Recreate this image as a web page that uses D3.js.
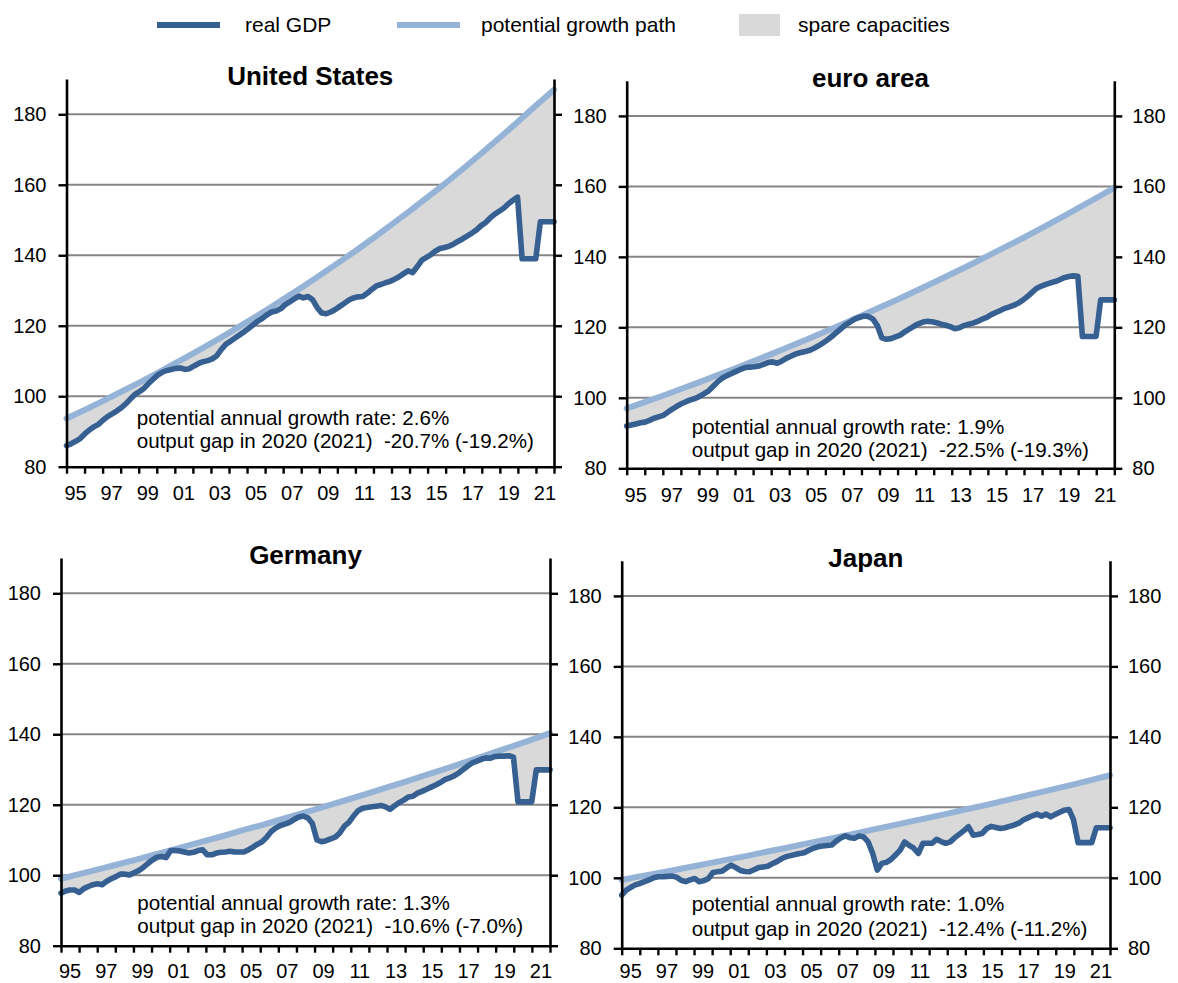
<!DOCTYPE html>
<html>
<head>
<meta charset="utf-8">
<script src="https://cdn.jsdelivr.net/npm/d3@7"></script>
<style>
  html, body { margin: 0; padding: 0; background: #ffffff; }
  svg { display: block; }
  text { font-family: "Liberation Sans", Arial, Helvetica, sans-serif; fill: #000; }
</style>
</head>
<body>
<svg id="chart" width="1178" height="983"></svg>
<script>
// ---- data ---------------------------------------------------------------
const panelNames = ["United States", "euro area", "Germany", "Japan"];

// year boundaries (potential path is read at the start of each year)
const pathYears = [1995, 1996, 1997, 1998, 1999, 2000, 2001, 2002, 2003, 2004,
  2005, 2006, 2007, 2008, 2009, 2010, 2011, 2012, 2013, 2014, 2015, 2016, 2017,
  2018, 2019, 2020, 2021, 2022];

const xTickLabels = ["95", "97", "99", "01", "03", "05", "07", "09", "11", "13",
  "15", "17", "19", "21"];
const xLabelYears = [1995, 1997, 1999, 2001, 2003, 2005, 2007, 2009, 2011, 2013,
  2015, 2017, 2019, 2021];
const yTicks = [80, 100, 120, 140, 160, 180];

// potential growth path (index level)
const usPotential = [93.7, 96.1, 98.6, 101.2, 103.8, 106.5, 109.3, 112.1, 115.0,
  118.0, 121.1, 124.2, 127.5, 130.8, 134.2, 137.7, 141.2, 144.9, 148.7, 152.5,
  156.5, 160.5, 164.7, 169.0, 173.4, 177.9, 182.5, 187.0];
const eaPotential = [97.0, 98.8, 100.6, 102.5, 104.4, 106.4, 108.3, 110.4, 112.4,
  114.5, 116.6, 118.8, 121.0, 123.3, 125.6, 127.9, 130.3, 132.7, 135.2, 137.7,
  140.3, 142.9, 145.5, 148.2, 151.0, 153.8, 156.7, 159.6];
const dePotential = [99.0, 100.3, 101.6, 102.9, 104.2, 105.6, 107.0, 108.4, 109.8,
  111.2, 112.7, 114.1, 115.6, 117.1, 118.6, 120.2, 121.7, 123.3, 124.9, 126.5,
  128.2, 129.8, 131.5, 133.2, 135.0, 136.7, 138.5, 140.3];
const jpPotential = [99.4, 100.4, 101.3, 102.3, 103.3, 104.3, 105.3, 106.3, 107.4,
  108.4, 109.5, 110.5, 111.6, 112.7, 113.8, 114.9, 116.0, 117.1, 118.2, 119.4,
  120.5, 121.7, 122.9, 124.1, 125.3, 126.5, 127.8, 129.1];

// real GDP, quarterly 1995Q1 - 2021Q4 (2020 and 2021: annual level)
const usGDP = [
  86.0, 86.5, 87.2, 88.0,   89.3, 90.4, 91.3, 92.0,   93.2, 94.2, 95.0, 95.8,
  96.7, 97.8, 99.2, 100.5,  101.3, 102.2, 103.6, 104.8, 106.0, 106.8, 107.3, 107.6,
  107.9, 108.0, 107.6, 107.8, 108.6, 109.3, 109.8, 110.1, 110.6, 111.5, 113.3, 114.8,
  115.6, 116.5, 117.4, 118.3, 119.3, 120.3, 121.3, 122.1, 123.1, 123.9, 124.2, 124.8,
  126.0, 126.8, 127.6, 128.4, 127.9, 128.3, 127.4, 125.2, 123.6, 123.4, 123.9, 124.6,
  125.5, 126.4, 127.3, 127.9, 128.2, 128.3, 129.2, 130.3, 131.3, 131.7, 132.2, 132.6,
  133.2, 133.9, 134.8, 135.6, 135.1, 136.8, 138.6, 139.4, 140.2, 141.2, 141.9, 142.2,
  142.6, 143.2, 144.0, 144.7, 145.5, 146.3, 147.2, 148.4, 149.3, 150.6, 151.7, 152.5,
  153.4, 154.6, 155.6, 156.5, 139.0, 139.0, 139.0, 139.0, 149.5, 149.5, 149.5, 149.5];
const eaGDP = [
  92.0, 92.3, 92.6, 92.9,   93.1, 93.6, 94.2, 94.6,   95.0, 95.9, 96.8, 97.6,
  98.3, 98.9, 99.4, 99.8,   100.4, 101.2, 102.0, 103.3, 104.6, 105.6, 106.3, 106.9,
  107.5, 108.1, 108.6, 108.7, 108.8, 109.0, 109.5, 110.0, 110.2, 109.8, 110.4, 111.2,
  111.8, 112.4, 112.8, 113.1, 113.4, 114.0, 114.7, 115.5, 116.4, 117.4, 118.5, 119.6,
  120.7, 121.5, 122.3, 122.8, 123.2, 123.1, 122.4, 120.5, 117.0, 116.6, 116.8, 117.3,
  117.8, 118.7, 119.5, 120.3, 121.0, 121.5, 121.7, 121.6, 121.3, 120.9, 120.6, 120.2,
  119.6, 119.9, 120.5, 120.9, 121.2, 121.7, 122.3, 122.8, 123.6, 124.2, 124.8, 125.4,
  125.8, 126.3, 126.9, 127.8, 128.8, 130.0, 131.1, 131.7, 132.2, 132.6, 133.0, 133.5,
  134.1, 134.4, 134.6, 134.5, 117.4, 117.4, 117.4, 117.4, 127.8, 127.8, 127.8, 127.8];
const deGDP = [
  94.9, 95.5, 95.8, 95.8,   95.1, 96.2, 96.8, 97.3,   97.6, 97.3, 98.3, 99.0,
  99.6, 100.3, 100.3, 100.1, 100.7, 101.3, 102.2, 103.3, 104.3, 105.1, 105.3, 105.0,
  107.0, 107.0, 106.9, 106.6, 106.3, 106.5, 107.0, 107.2, 105.8, 105.8, 106.3, 106.5,
  106.6, 106.8, 106.6, 106.6, 106.6, 107.2, 108.0, 108.8, 109.5, 110.8, 112.4, 113.4,
  114.1, 114.5, 115.0, 115.8, 116.5, 116.8, 116.3, 114.7, 110.0, 109.5, 109.8, 110.3,
  110.8, 112.0, 113.9, 115.0, 116.8, 118.3, 119.0, 119.2, 119.4, 119.6, 119.8, 119.4,
  118.7, 119.7, 120.6, 121.3, 122.2, 122.4, 123.3, 123.8, 124.4, 125.0, 125.6, 126.3,
  127.1, 127.6, 128.2, 129.0, 130.0, 131.0, 131.9, 132.4, 132.9, 133.3, 133.2, 133.7,
  133.8, 133.8, 133.9, 133.5, 120.8, 120.8, 120.8, 120.8, 129.9, 129.9, 129.9, 129.9];
const jpGDP = [
  95.1, 96.5, 97.3, 98.0,   98.4, 98.9, 99.4, 100.0,  100.3, 100.3, 100.4, 100.5,
  100.2, 99.3, 98.9, 99.4,  99.8, 98.9, 99.2, 99.8,   101.5, 101.7, 101.9, 102.8,
  103.6, 102.9, 102.1, 101.8, 101.7, 102.3, 102.9, 103.1, 103.3, 104.0, 104.6, 105.4,
  106.0, 106.3, 106.6, 106.9, 107.1, 107.8, 108.4, 108.8, 109.0, 109.2, 109.3, 110.4,
  111.3, 111.9, 111.4, 111.2, 111.9, 111.6, 110.2, 106.9, 102.2, 104.1, 104.4, 105.2,
  106.5, 107.8, 110.2, 109.2, 108.4, 106.9, 109.8, 109.8, 109.8, 110.9, 110.3, 109.8,
  110.2, 111.4, 112.4, 113.4, 114.5, 112.1, 112.3, 112.6, 114.0, 114.6, 114.3, 114.0,
  114.2, 114.6, 115.0, 115.5, 116.4, 117.0, 117.6, 118.1, 117.5, 118.1, 117.3, 118.0,
  118.6, 119.2, 119.4, 116.5, 110.0, 110.0, 110.0, 110.0, 114.2, 114.2, 114.2, 114.2];

const growthRates = ["2.6%", "1.9%", "1.3%", "1.0%"];
const gap2020 = ["-20.7%", "-22.5%", "-10.6%", "-12.4%"];
const gap2021 = ["-19.2%", "-19.3%", "-7.0%", "-11.2%"];

const legendLabels = ["real GDP", "potential growth path", "spare capacities"];

// ---- styling ------------------------------------------------------------
const colGDP = "#376092";
const colPot = "#95b3d7";
const colFill = "#d9d9d9";
const colGrid = "#868686";

// ---- panel layout -------------------------------------------------------
const layout = [
  { left: 66.5, right: 554,    base: 466.7, textX: 136.7, t1: -42,  t2: -18.5, labelsL: true,  labelsR: false, xlab: 33.5 },
  { left: 626.7, right: 1114.3, base: 468.3, textX: 691.7, t1: -34,  t2: -11,   labelsL: true,  labelsR: true,  xlab: 33.5 },
  { left: 61,   right: 550,    base: 945.7, textX: 137.3, t1: -36,  t2: -13,   labelsL: true,  labelsR: false, xlab: 32 },
  { left: 621.7, right: 1110,   base: 948.3, textX: 691.7, t1: -37,  t2: -12,   labelsL: true,  labelsR: true,  xlab: 29.5 }
];
const potentials = [usPotential, eaPotential, dePotential, jpPotential];
const gdps = [usGDP, eaGDP, deGDP, jpGDP];

const svg = d3.select("#chart");

panelNames.forEach((name, p) => {
  const L = layout[p];
  const pot = potentials[p];
  const gdp = gdps[p];
  const nQ = gdp.length;

  const x = d3.scaleLinear().domain([1995, 2022]).range([L.left, L.right]);
  const y = d3.scaleLinear().domain([80, 190]).range([L.base, L.base - 110 * 3.524]);
  const qx = i => x(1995 + i * 27 / (nQ - 1));

  const g = svg.append("g");

  // horizontal gridlines
  g.selectAll("line.grid")
    .data(yTicks.filter(v => v > 80))
    .join("line")
    .attr("x1", L.left).attr("x2", L.right)
    .attr("y1", d => y(d)).attr("y2", d => y(d))
    .attr("stroke", colGrid).attr("stroke-width", 2);

  // spare capacities: region between the potential path and real GDP
  const potPts = pathYears.map((yr, k) => [x(yr), y(pot[k])]);
  const gdpPts = gdp.map((v, i) => [qx(i), y(v)]);
  const ring = potPts.concat(gdpPts.slice().reverse());
  g.append("path")
    .attr("d", d3.line()(ring) + "Z")
    .attr("fill", colFill)
    .attr("stroke", "none");

  // potential growth path
  g.append("path")
    .datum(pot)
    .attr("d", d3.line().x((d, k) => x(pathYears[k])).y(d => y(d)))
    .attr("fill", "none")
    .attr("stroke", colPot)
    .attr("stroke-width", 6)
    .attr("stroke-linejoin", "round")
    .attr("stroke-linecap", "round");

  // real GDP
  g.append("path")
    .datum(gdp)
    .attr("d", d3.line().x((d, i) => qx(i)).y(d => y(d)))
    .attr("fill", "none")
    .attr("stroke", colGDP)
    .attr("stroke-width", 5.6)
    .attr("stroke-linejoin", "round")
    .attr("stroke-linecap", "round");

  // left axis
  const axL = g.append("g")
    .attr("transform", `translate(${L.left},0)`)
    .call(d3.axisLeft(y).tickValues(yTicks).tickSize(8).tickSizeOuter(0)
      .tickPadding(12).tickFormat(L.labelsL ? d3.format("d") : ""));
  // right axis
  const axR = g.append("g")
    .attr("transform", `translate(${L.right},0)`)
    .call(d3.axisRight(y).tickValues(yTicks).tickSize(8).tickSizeOuter(0)
      .tickPadding(10).tickFormat(L.labelsR ? d3.format("d") : ""));
  // bottom axis: a tick at every year boundary
  const axB = g.append("g")
    .attr("transform", `translate(0,${y(80)})`)
    .call(d3.axisBottom(x).tickValues(pathYears).tickSize(7).tickSizeOuter(0)
      .tickFormat(""));

  [axL, axR, axB].forEach(a => {
    a.select(".domain").attr("stroke", "#000").attr("stroke-width", 2.6);
    a.selectAll(".tick line").attr("stroke", "#000").attr("stroke-width", 2.4);
    a.selectAll(".tick text")
      .attr("font-size", 20)
      .attr("font-family", "'Liberation Sans', Arial, sans-serif")
      .attr("fill", "#000");
  });

  // year labels, centred within each labelled year
  g.selectAll("text.xl")
    .data(xTickLabels)
    .join("text")
    .attr("x", (d, k) => x(xLabelYears[k] + 0.5))
    .attr("y", y(80) + L.xlab)
    .attr("text-anchor", "middle")
    .attr("font-size", 20)
    .text(d => d);

  // panel title
  g.append("text")
    .attr("x", (L.left + L.right) / 2)
    .attr("y", y(190) + 6)
    .attr("text-anchor", "middle")
    .attr("font-size", 26)
    .attr("font-weight", "bold")
    .text(name);

  // growth-rate and output-gap note
  g.append("text")
    .attr("x", L.textX).attr("y", L.base + L.t1)
    .attr("font-size", 20.6)
    .style("white-space", "pre")
    .text(`potential annual growth rate: ${growthRates[p]}`);
  g.append("text")
    .attr("x", L.textX).attr("y", L.base + L.t2)
    .attr("font-size", 20.6)
    .style("white-space", "pre")
    .text(`output gap in 2020 (2021)  ${gap2020[p]} (${gap2021[p]})`);
});

// ---- legend -------------------------------------------------------------
const lg = svg.append("g");
lg.append("line").attr("x1", 157).attr("x2", 220).attr("y1", 25).attr("y2", 25)
  .attr("stroke", colGDP).attr("stroke-width", 6);
lg.append("text").attr("x", 245).attr("y", 32).attr("font-size", 21).text(legendLabels[0]);
lg.append("line").attr("x1", 397).attr("x2", 460).attr("y1", 25).attr("y2", 25)
  .attr("stroke", colPot).attr("stroke-width", 6);
lg.append("text").attr("x", 481).attr("y", 32).attr("font-size", 21).text(legendLabels[1]);
lg.append("rect").attr("x", 739).attr("y", 14).attr("width", 41).attr("height", 22)
  .attr("fill", colFill);
lg.append("text").attr("x", 798).attr("y", 32).attr("font-size", 21).text(legendLabels[2]);
</script>
</body>
</html>
